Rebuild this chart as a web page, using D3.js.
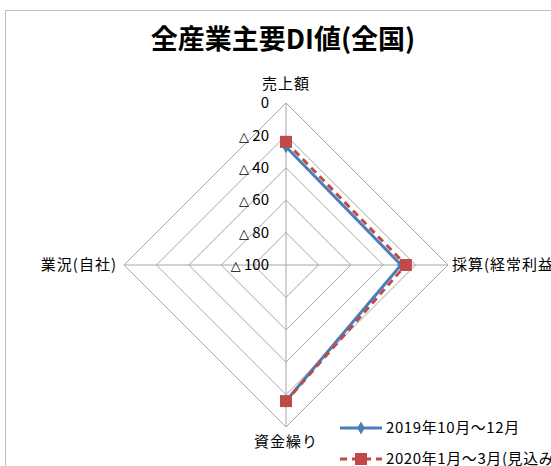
<!DOCTYPE html>
<html><head><meta charset="utf-8">
<script src="https://cdn.jsdelivr.net/npm/d3@7"></script>
<style>body{margin:0;background:#fff;}svg{display:block;font-family:"Noto Sans CJK JP","Noto Sans",sans-serif;}</style>
</head><body><svg id="c" width="551" height="466"></svg>
<script>
const title = "全産業主要DI値(全国)";
const categories = ["売上額", "採算(経常利益)", "資金繰り", "業況(自社)"];
const seriesNames = ["2019年10月～12月", "2020年1月～3月(見込み)"];
const series2019Q4 = [-27, -29, -16, null];
const series2020Q1 = [-24, -26, -16, null];
const tickValues = [0, -20, -40, -60, -80, -100];
const tickLabels = ["0", "△ 20", "△ 40", "△ 60", "△ 80", "△ 100"];

const svg = d3.select("#c");
const cx = 286, cy = 265, R = 162;
const r = d3.scaleLinear().domain([-100, 0]).range([0, R]);
const angle = d3.scaleLinear().domain([0, categories.length]).range([0, 2 * Math.PI]);
const pt = (i, v) => [cx + r(v) * Math.sin(angle(i)), cy - r(v) * Math.cos(angle(i))];

// chart frame
svg.append("rect").attr("x", 5.5).attr("y", 10.5).attr("width", 560).attr("height", 470)
  .attr("fill", "#fff").attr("stroke", "#bfbfbf").attr("stroke-width", 1);

svg.append("text").attr("x", 283).attr("y", 49).attr("text-anchor", "middle")
  .attr("font-size", 27).attr("font-weight", "bold").attr("fill", "#000").text(title);

const grid = svg.append("g").attr("fill", "none").attr("stroke", "#a6a6a6").attr("stroke-width", 1);
tickValues.filter(v => v > -100).forEach(v => {
  grid.append("path").attr("d", d3.line()(categories.map((c, i) => pt(i, v))) + "Z");
});
categories.forEach((c, i) => {
  grid.append("line").attr("x1", cx).attr("y1", cy).attr("x2", pt(i, 0)[0]).attr("y2", pt(i, 0)[1]);
});

// tick labels
const tl = svg.append("g").selectAll("text").data(tickValues).join("text")
  .attr("x", cx - 17).attr("y", v => cy - r(v)).attr("dy", "0.35em")
  .attr("text-anchor", "end").attr("font-size", 15).attr("fill", "#000");
tl.each(function(v, i) {
  const s = tickLabels[i];
  const t = d3.select(this);
  if (s.startsWith("△")) {
    t.append("tspan").attr("font-size", 13).attr("font-family", "DejaVu Sans").text("△");
    t.append("tspan").text(s.slice(1));
  } else t.text(s);
});

// category labels
const catPos = [
  {x: cx, y: 84, a: "middle"},
  {x: 452, y: cy, a: "start"},
  {x: cx, y: 442, a: "middle"},
  {x: 117, y: cy, a: "end"}
];
svg.append("g").selectAll("text").data(categories).join("text")
  .attr("x", (d, i) => catPos[i].x).attr("y", (d, i) => catPos[i].y).attr("dy", "0.35em")
  .attr("text-anchor", (d, i) => catPos[i].a).attr("font-size", 15).attr("letter-spacing", 1)
  .attr("fill", "#000").text(d => d);

const line = d3.lineRadial().defined(d => d.v != null)
  .angle(d => angle(d.i)).radius(d => r(d.v));
const closed = arr => arr.map((v, i) => ({i, v})).concat([{i: arr.length, v: arr[0]}]);

const colors = ["#4a7ebb", "#be4b48"];
const g = svg.append("g").attr("transform", `translate(${cx},${cy})`);
g.append("path").attr("d", line(closed(series2019Q4))).attr("fill", "none")
  .attr("stroke", colors[0]).attr("stroke-width", 3).attr("stroke-linejoin", "round");
g.append("path").attr("d", line(closed(series2020Q1))).attr("fill", "none")
  .attr("stroke", colors[1]).attr("stroke-width", 3).attr("stroke-dasharray", "7,5");

const diamond = d3.symbol().type(d3.symbolDiamond).size(50);
svg.append("g").selectAll("path").data(series2019Q4.map((v, i) => ({i, v})).filter(d => d.v != null)).join("path")
  .attr("d", diamond).attr("transform", d => `translate(${pt(d.i, d.v)})`).attr("fill", colors[0]);
svg.append("g").selectAll("rect").data(series2020Q1.map((v, i) => ({i, v})).filter(d => d.v != null)).join("rect")
  .attr("x", d => pt(d.i, d.v)[0] - 6).attr("y", d => pt(d.i, d.v)[1] - 6)
  .attr("width", 12).attr("height", 12).attr("fill", colors[1]);

// legend
const lg = svg.append("g");
[428, 459].forEach((y, k) => {
  lg.append("line").attr("x1", 340).attr("x2", 382).attr("y1", y).attr("y2", y)
    .attr("stroke", colors[k]).attr("stroke-width", 3).attr("stroke-dasharray", k ? "7,5" : null);
  if (k === 0) lg.append("path").attr("d", diamond).attr("transform", `translate(361,${y})`).attr("fill", colors[0]);
  else lg.append("rect").attr("x", 355).attr("y", y - 6).attr("width", 12).attr("height", 12).attr("fill", colors[1]);
  lg.append("text").attr("x", 386).attr("y", y).attr("dy", "0.35em").attr("font-size", 15)
    .attr("letter-spacing", 0.6).attr("fill", "#000").text(seriesNames[k]);
});
</script></body></html>
